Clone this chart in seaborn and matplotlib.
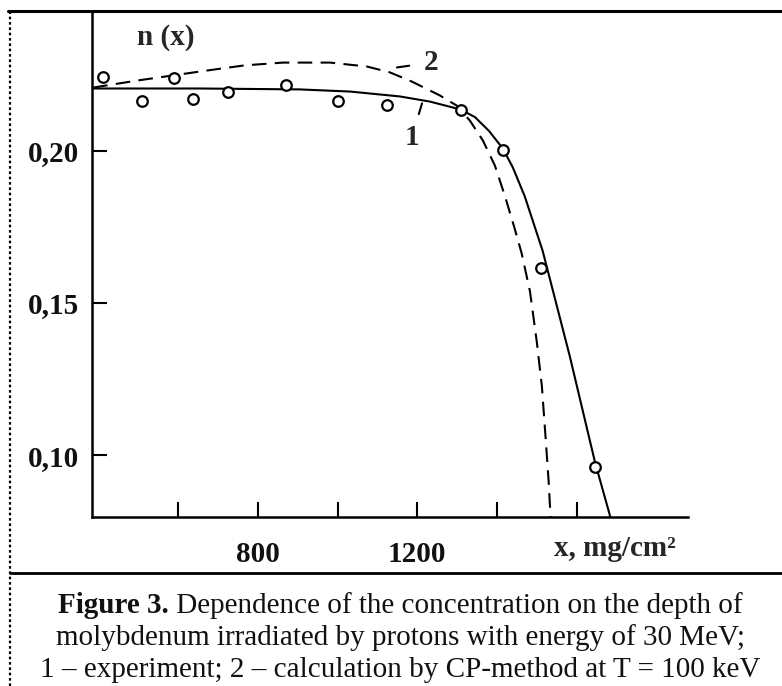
import seaborn as sns
import matplotlib.pyplot as plt
import matplotlib.lines as mlines

# experimental points (circles)
exp_x = [411, 509, 589, 637, 725, 870, 1001, 1124, 1309, 1415, 1510, 1646]
exp_n = [0.2243, 0.2164, 0.2240, 0.2171, 0.2191, 0.2217, 0.2164, 0.2151,
         0.2135, 0.2003, 0.1615, 0.0961]

# curve 1 - experiment
curve1_x = [383, 654, 905, 1031, 1156, 1232, 1309, 1345, 1380, 1415, 1440,
            1470, 1515, 1583, 1646, 1686]
curve1_n = [0.2204, 0.2204, 0.2201, 0.2194, 0.2178, 0.2161, 0.2135, 0.2110,
            0.2065, 0.2007, 0.1945, 0.1850, 0.1671, 0.1326, 0.0980, 0.0793]

# curve 2 - calculation by CP-method
curve2_x = [386, 496, 587, 672, 767, 863, 981, 1074, 1131, 1186, 1257, 1299,
            1332, 1365, 1395, 1420, 1445, 1462, 1483, 1500, 1513, 1523,
            1530, 1535]
curve2_n = [0.2207, 0.2230, 0.2247, 0.2263, 0.2280, 0.2289, 0.2289, 0.2276,
            0.2257, 0.2227, 0.2181, 0.2148, 0.2099, 0.2033, 0.1951, 0.1852,
            0.1743, 0.1664, 0.1539, 0.1375, 0.1227, 0.1046, 0.0914, 0.0793]

# ticks
x_ticks = [600, 800, 1000, 1200, 1400, 1600]
x_tick_labels = ["", "800", "", "1200", "", ""]
y_ticks = [0.10, 0.15, 0.20]
y_tick_labels = ["0,10", "0,15", "0,20"]

caption_head = "Figure 3."
caption = [
    " Dependence of the concentration on the depth of",
    "molybdenum irradiated by protons with energy of 30 MeV;",
    "1 \u2013 experiment; 2 \u2013 calculation by CP-method at T = 100 keV",
]

sns.set_theme(style="white")
plt.rcParams["font.family"] = ["Liberation Serif", "DejaVu Serif"]

fig = plt.figure(figsize=(7.82, 6.86), dpi=100)
ax = fig.add_axes([0.1176, 0.2464, 0.8798 - 0.1176, 0.9825 - 0.2464])

sns.lineplot(x=curve1_x, y=curve1_n, sort=False, estimator=None,
             color="black", linewidth=1.5, ax=ax)
sns.lineplot(x=curve2_x, y=curve2_n, sort=False, estimator=None,
             color="black", linewidth=1.5, linestyle=(0, (7, 4)), ax=ax)
sns.scatterplot(x=exp_x, y=exp_n, marker="o", s=58, color="white",
                edgecolor="black", linewidth=1.6, zorder=3, ax=ax)

ax.set_xlim(383, 1880)
ax.set_ylim(0.0798, 0.2455)

ax.set_xticks(x_ticks)
ax.set_xticklabels(x_tick_labels)
ax.set_yticks(y_ticks)
ax.set_yticklabels(y_tick_labels)
ax.tick_params(bottom=True, left=True, direction="in", length=11, width=1.5,
               color="black", labelsize=21, labelcolor="#111111")
ax.tick_params(axis="x", pad=17)
ax.tick_params(axis="y", pad=9)
for lab in ax.get_xticklabels() + ax.get_yticklabels():
    lab.set_fontweight("bold")

for side in ["top", "right"]:
    ax.spines[side].set_visible(False)
for side in ["left", "bottom"]:
    ax.spines[side].set_linewidth(1.8)
    ax.spines[side].set_color("black")

# axis titles
ax.text(569, 0.2372, "n (x)", fontsize=21, fontweight="bold",
        ha="center", va="center")
ax.text(1696, -0.063, "x, mg/cm\u00b2", fontsize=21, fontweight="bold",
        ha="center", va="center", transform=ax.get_xaxis_transform())

# curve labels
ax.annotate("2", xy=(1149, 0.2273), xytext=(1234, 0.2289), fontsize=21,
            fontweight="bold", ha="center", va="center",
            arrowprops=dict(arrowstyle="-", color="black", lw=1.5,
                            shrinkA=8, shrinkB=0))
ax.annotate("1", xy=(1212, 0.2155), xytext=(1186, 0.2043), fontsize=21,
            fontweight="bold", ha="center", va="center",
            arrowprops=dict(arrowstyle="-", color="black", lw=1.5,
                            shrinkA=5, shrinkB=0))

# frame lines around the figure
fig.add_artist(mlines.Line2D([8 / 782, 1], [1 - 11 / 686, 1 - 11 / 686],
                             color="black", lw=2.2))
fig.add_artist(mlines.Line2D([10 / 782, 1], [1 - 573 / 686, 1 - 573 / 686],
                             color="black", lw=2.0))
fig.add_artist(mlines.Line2D([10 / 782, 10 / 782], [0, 1 - 11 / 686],
                             color="black", lw=1.6, linestyle=(0, (1.2, 1.2))))

# caption
cx = 0.512
bases = [1 - b / 686 for b in [613, 645, 677]]
renderer = fig.canvas.get_renderer()
W = fig.bbox.width
head = fig.text(0, bases[0], caption_head, fontsize=21, fontweight="bold",
                ha="left", va="baseline", color="#111111")
rest = fig.text(0, bases[0], caption[0], fontsize=21, ha="left",
                va="baseline", color="#111111")
wh = head.get_window_extent(renderer).width
wr = rest.get_window_extent(renderer).width
start = cx * W - (wh + wr) / 2
head.set_x(start / W)
rest.set_x((start + wh) / W)
for text, base in zip(caption[1:], bases[1:]):
    fig.text(cx, base, text, fontsize=21, ha="center", va="baseline",
             color="#111111")

plt.savefig("out.png", dpi=100)
